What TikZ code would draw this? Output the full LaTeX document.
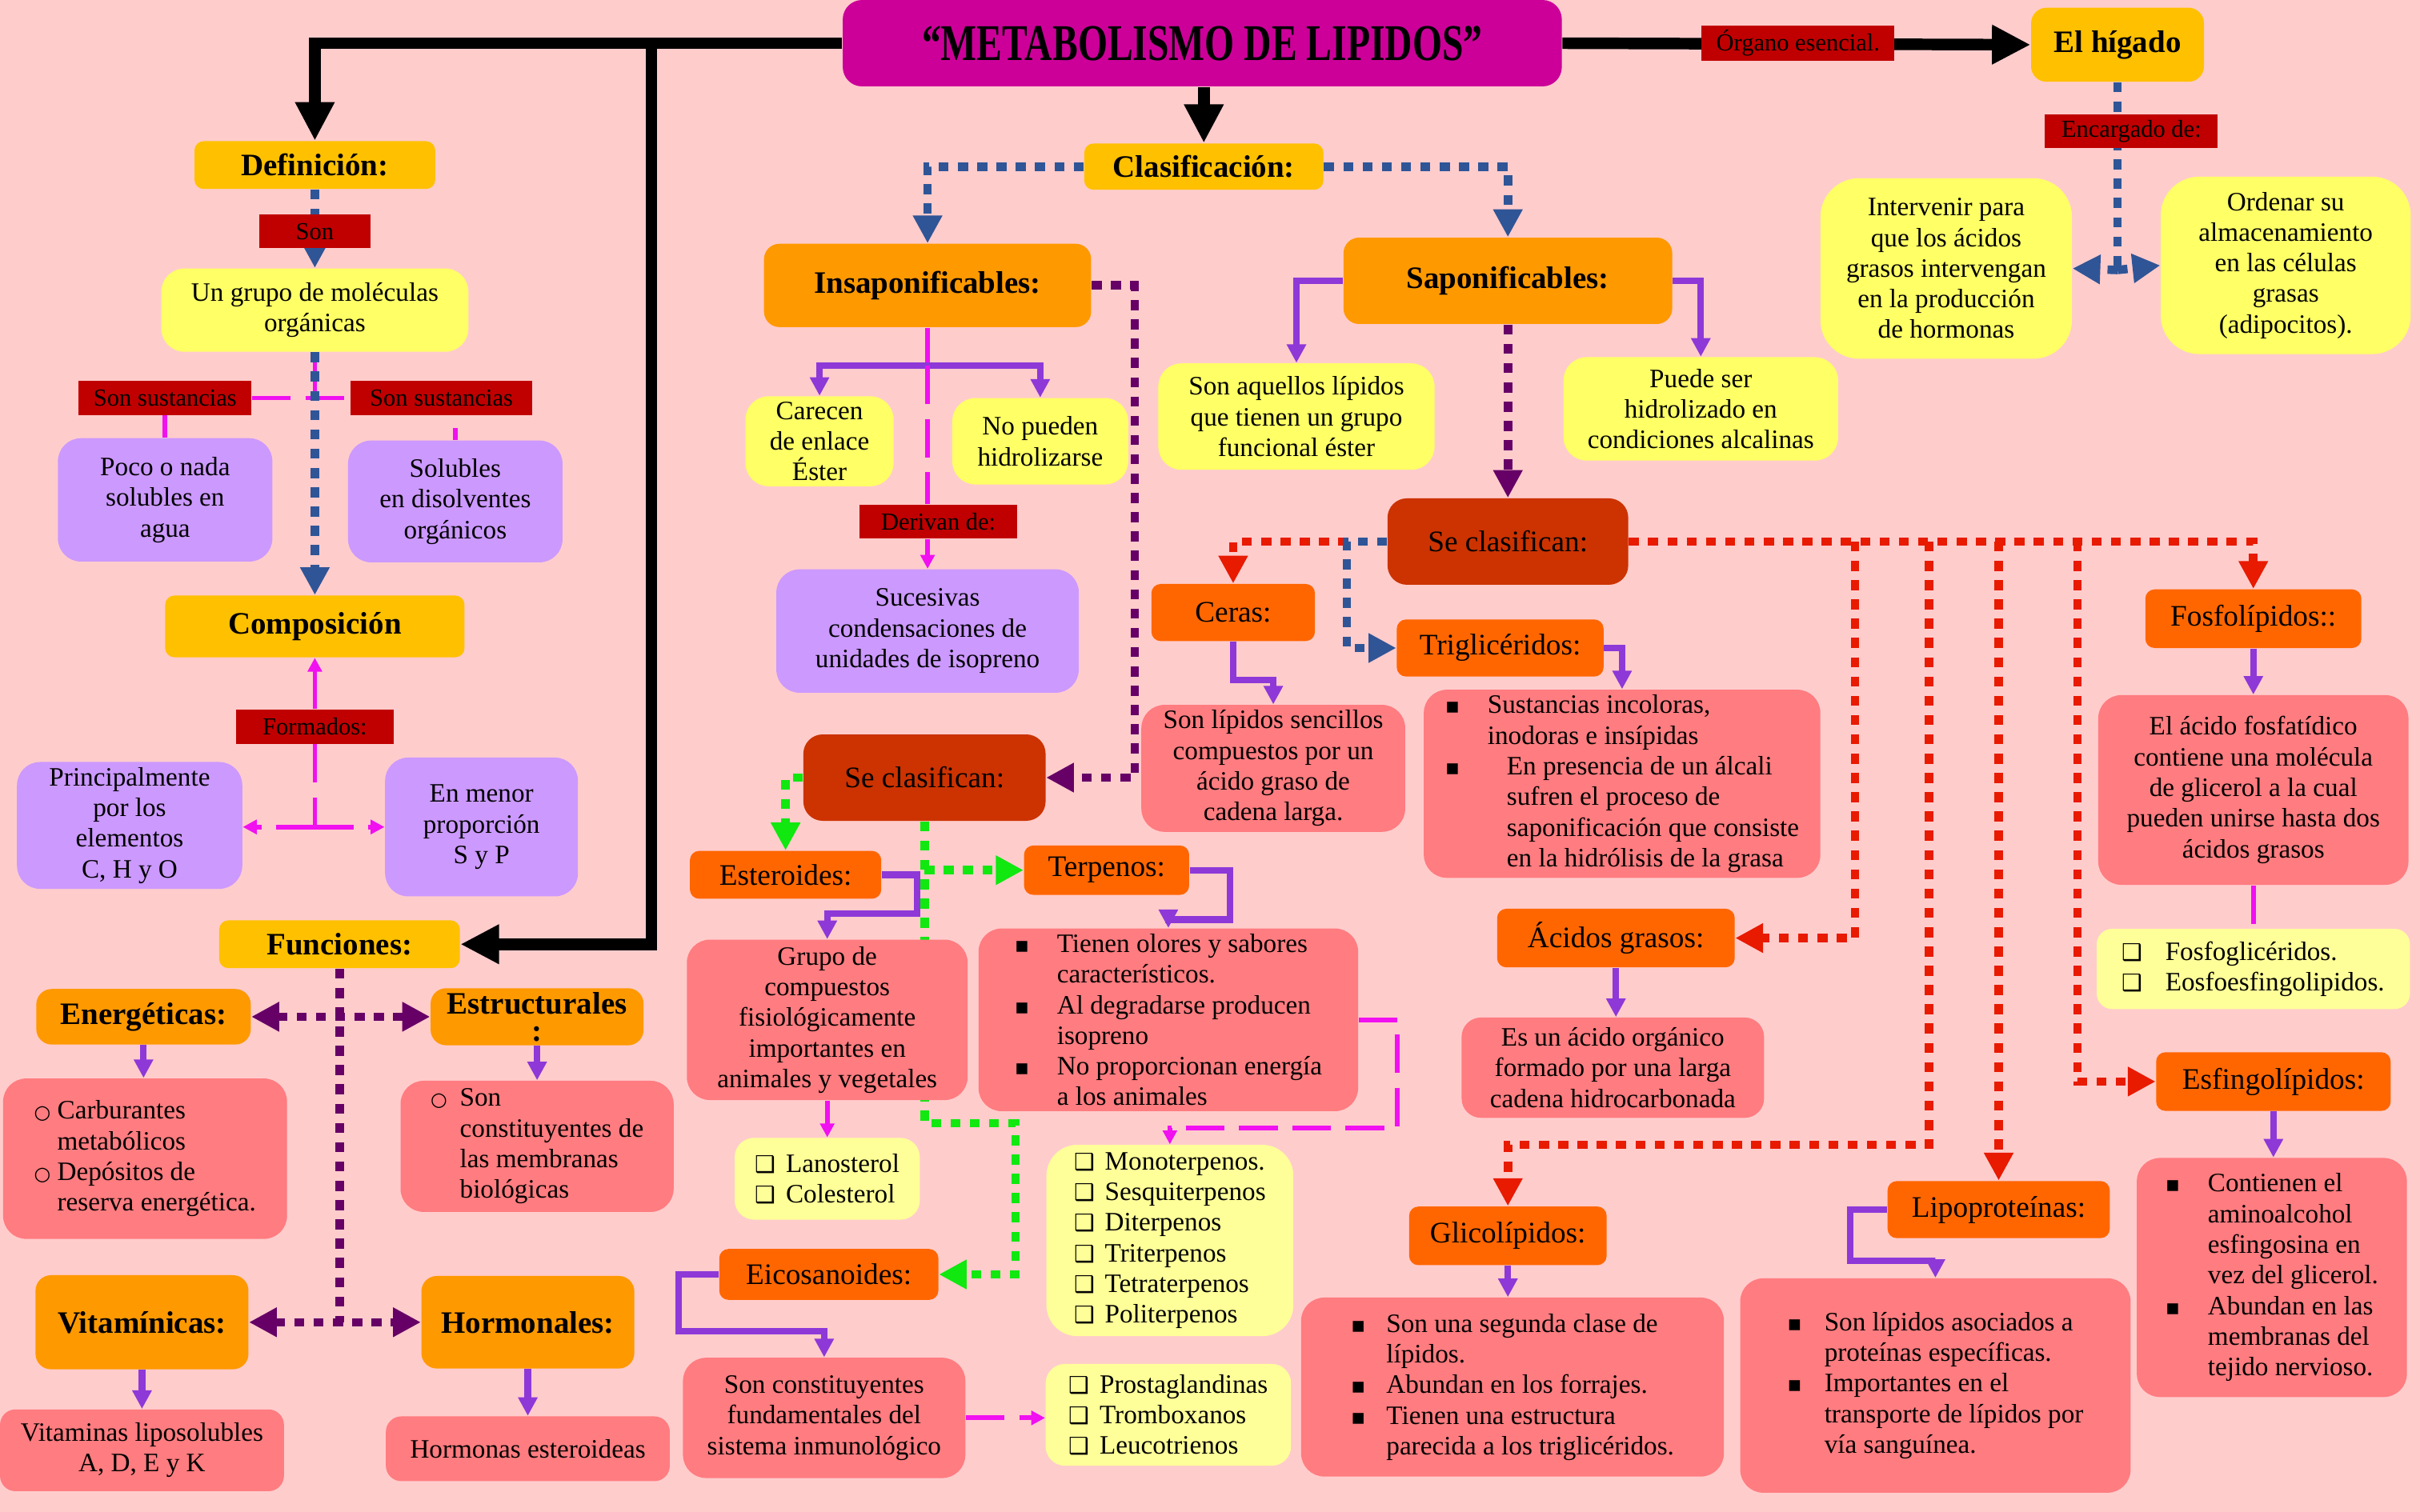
\documentclass[tikz,border=0pt]{standalone}
\usepackage{fontspec}
\setmainfont{Liberation Serif}
\newfontfamily\symf{DejaVu Sans}
\usepackage{graphicx}
\usepackage{xcolor}
\usepackage{tikz}
\usetikzlibrary{arrows.meta}
\definecolor{cBg}{HTML}{FFCCCC}
\definecolor{cTtl}{HTML}{CC0099}
\definecolor{cAmb}{HTML}{FFC000}
\definecolor{cOrg}{HTML}{FF9900}
\definecolor{cDorg}{HTML}{FF6600}
\definecolor{cRust}{HTML}{CC3300}
\definecolor{cYel}{HTML}{FFFF66}
\definecolor{cPale}{HTML}{FFFF99}
\definecolor{cLav}{HTML}{CC99FF}
\definecolor{cSal}{HTML}{FF7C80}
\definecolor{cLbl}{HTML}{C00000}
\definecolor{cBlue}{HTML}{2F5597}
\definecolor{cPur}{HTML}{8E38D8}
\definecolor{cDpur}{HTML}{660066}
\definecolor{cRed}{HTML}{E81A00}
\definecolor{cGreen}{HTML}{10E810}
\definecolor{cMag}{HTML}{F010F0}
\newcommand{\ttlfont}{\fontsize{19}{22}\bfseries\selectfont}
\newcommand{\hdrfont}{\fontsize{11.5}{13}\bfseries\selectfont}
\newcommand{\subfont}{\fontsize{11}{13}\selectfont}
\newcommand{\bodyfont}{\fontsize{9.8}{11.3}\selectfont}
\newcommand{\lblfont}{\fontsize{9}{10}\selectfont}
\newcommand{\bsq}[1][0.55cm]{\makebox[#1][l]{\symf\fontsize{8}{8}\selectfont ▪}}
\newcommand{\bsp}[1][0.55cm]{\hspace*{#1}}
\newcommand{\bci}[1][0.3cm]{\makebox[#1][l]{\symf\fontsize{7}{7}\selectfont ○}}
\newcommand{\cbx}[1][0.4cm]{\makebox[#1][l]{\symf\fontsize{8.5}{8.5}\selectfont ❑}}
\pgfdeclarelayer{bg}
\pgfdeclarelayer{edges}
\pgfsetlayers{bg,edges,main}
\tikzset{
  sz/.style 2 args={minimum width=#1cm,minimum height=#2cm},
  ttl/.style={fill=cTtl,rounded corners=0.25cm,font=\ttlfont,sz={9.32}{1.12}},
  hdr/.style={fill=cAmb,rounded corners=0.12cm,align=center,inner sep=1pt,font=\hdrfont},
  org/.style={hdr,fill=cOrg,rounded corners=0.2cm},
  dorg/.style={hdr,fill=cDorg,font=\subfont},
  rst/.style={dorg,fill=cRust,rounded corners=0.25cm},
  box/.style={rounded corners=0.3cm,align=center,inner sep=2pt,font=\bodyfont},
  yel/.style={box,fill=cYel},
  pale/.style={box,fill=cPale,rounded corners=0.25cm},
  lav/.style={box,fill=cLav},
  sal/.style={box,fill=cSal},
  lbl/.style={fill=cLbl,inner sep=0pt,font=\lblfont},
  bigarr/.style={line width=0.15cm,-{Triangle[length=0.5cm,width=0.48cm]}},
  sqdash/.style={line width=0.11cm,dash pattern=on 0.13cm off 0.12cm},
  bluedash/.style={sqdash,cBlue},
  bluedasharr/.style={bluedash,-{Triangle[length=0.36cm,width=0.36cm]}},
  pdash/.style={sqdash,cDpur},
  pdash2/.style={pdash,{Triangle[length=0.36cm,width=0.36cm]}-{Triangle[length=0.36cm,width=0.36cm]}},
  ddasharr/.style={pdash,-{Triangle[length=0.36cm,width=0.36cm]}},
  gdasharr/.style={sqdash,cGreen,-{Triangle[length=0.36cm,width=0.36cm]}},
  rdasharr/.style={sqdash,cRed,-{Triangle[length=0.36cm,width=0.36cm]}},
  magline/.style={cMag,line width=0.06cm},
  magdash/.style={magline,dash pattern=on 0.5cm off 0.19cm},
  magarr/.style={magline,-{Triangle[length=0.18cm,width=0.18cm]}},
  magdasharr/.style={magdash,-{Triangle[length=0.18cm,width=0.18cm]}},
  parr/.style={cPur,line width=0.085cm,-{Triangle[length=0.24cm,width=0.24cm]}},
}
\begin{document}
\begin{tikzpicture}[x=0.02cm,y=-0.02cm]
  \begin{pgfonlayer}{bg}
    \fill[cBg] (0,0) rectangle (1568,980);
  \end{pgfonlayer}
  \useasboundingbox (0,0) rectangle (1568,980);

  % top
  \node[ttl] (title) at (779,28) {\scalebox{0.74}[1]{“METABOLISMO DE LIPIDOS”}};
  \node[hdr,sz={2.24}{0.96},rounded corners=0.2cm] (hig) at (1372,29) {El hígado};
  \node[lbl,sz={2.5}{0.46}] (lorg) at (1165,28) {Órgano esencial.};
  \node[lbl,sz={2.24}{0.44}] (lenc) at (1381,85) {Encargado de:};
  \node[yel,sz={3.26}{2.34},rounded corners=0.5cm] (int) at (1261,174) {Intervenir para\\que los ácidos\\grasos intervengan\\en la producción\\de hormonas};
  \node[yel,sz={3.24}{2.3},rounded corners=0.5cm] (ord) at (1481,172) {Ordenar su\\almacenamiento\\en las células\\grasas\\(adipocitos).};

  % left column
  \node[hdr,sz={3.12}{0.62}] (def) at (204,107) {Definición:};
  \node[lbl,sz={1.44}{0.44}] (lson) at (204,150) {Son};
  \node[yel,sz={3.98}{1.08}] (grupo) at (204,201) {Un grupo de moléculas\\orgánicas};
  \node[lbl,sz={2.24}{0.44}] (lss1) at (107,258) {Son sustancias};
  \node[lbl,sz={2.36}{0.44}] (lss2) at (286,258) {Son sustancias};
  \node[lav,sz={2.78}{1.6}] (poco) at (107,324) {Poco o nada\\solubles en\\agua};
  \node[lav,sz={2.78}{1.58}] (solu) at (295,325) {Solubles\\en disolventes\\orgánicos};
  \node[hdr,sz={3.88}{0.8}] (comp) at (204,406) {Composición};
  \node[lbl,sz={2.04}{0.44}] (lform) at (204,471) {Formados:};
  \node[lav,sz={2.92}{1.6}] (prin) at (84,535) {Principalmente\\por los\\elementos\\C, H y O};
  \node[lav,sz={2.5}{1.8}] (menor) at (312,536) {En menor\\proporción\\S y P};
  \node[hdr,sz={3.12}{0.62}] (fun) at (220,612) {Funciones:};
  \node[org,sz={2.78}{0.72}] (ener) at (93,659) {Energéticas:};
  \node[org,sz={2.76}{0.74},font=\fontsize{11.5}{10}\bfseries\selectfont] (estr) at (348,659) {Estructurales\\:};
  \node[sal,sz={3.68}{2.08},align=left] (enerbox) at (94,751) {\bci Carburantes\\\bsp[0.3cm]metabólicos\\\bci Depósitos de\\\bsp[0.3cm]reserva energética.};
  \node[sal,sz={3.54}{1.7},align=left] (estrbox) at (348,743) {\bci[0.38cm]Son\\\bsp[0.38cm]constituyentes de\\\bsp[0.38cm]las membranas\\\bsp[0.38cm]biológicas};
  \node[org,sz={2.76}{1.22}] (vita) at (92,857) {Vitamínicas:};
  \node[org,sz={2.76}{1.2}] (horm) at (342,857) {Hormonales:};
  \node[sal,sz={3.68}{1.06},rounded corners=0.2cm] (vitbox) at (92,940) {Vitaminas liposolubles\\A, D, E y K};
  \node[sal,sz={3.68}{0.84},rounded corners=0.2cm] (hormbox) at (342,939) {Hormonas esteroideas};

  % middle column
  \node[hdr,sz={3.1}{0.6}] (clas) at (780,108) {Clasificación:};
  \node[org,sz={4.24}{1.08}] (insap) at (601,185) {Insaponificables:};
  \node[org,sz={4.26}{1.12}] (sap) at (977,182) {Saponificables:};
  \node[yel,sz={1.92}{1.14}] (care) at (531,286) {Carecen\\de enlace\\Éster};
  \node[yel,sz={2.28}{1.12}] (nop) at (674,286) {No pueden\\hidrolizarse};
  \node[lbl,sz={2.04}{0.44}] (lderiv) at (608,338) {Derivan de:};
  \node[lav,sz={3.92}{1.6}] (suce) at (601,409) {Sucesivas\\condensaciones de\\unidades de isopreno};
  \node[rst,sz={3.14}{1.12}] (secl) at (599,504) {Se clasifican:};
  \node[dorg,sz={2.48}{0.62}] (est) at (509,567) {Esteroides:};
  \node[dorg,sz={2.14}{0.64}] (terp) at (717,564) {Terpenos:};
  \node[sal,sz={3.64}{2.08}] (grupob) at (536,661) {Grupo de\\compuestos\\fisiológicamente\\importantes en\\animales y vegetales};
  \node[sal,sz={4.92}{2.34},align=left] (tien) at (757,661) {\bsq Tienen olores y sabores\\\bsp característicos.\\\bsq Al degradarse producen\\\bsp isopreno\\\bsq No proporcionan energía\\\bsp a los animales};
  \node[pale,sz={2.4}{1.06},align=left] (lano) at (536,764) {\cbx Lanosterol\\\cbx Colesterol};
  \node[pale,sz={3.2}{2.48},align=left,rounded corners=0.4cm] (mono) at (758,804) {\cbx Monoterpenos.\\\cbx Sesquiterpenos\\\cbx Diterpenos\\\cbx Triterpenos\\\cbx Tetraterpenos\\\cbx Politerpenos};
  \node[dorg,sz={2.84}{0.66}] (eico) at (537,826) {Eicosanoides:};
  \node[sal,sz={3.66}{1.56}] (sist) at (534,919) {Son constituyentes\\fundamentales del\\sistema inmunológico};
  \node[pale,sz={3.18}{1.32},align=left] (prost) at (757,917) {\cbx Prostaglandinas\\\cbx Tromboxanos\\\cbx Leucotrienos};

  % right part
  \node[yel,sz={3.58}{1.38}] (aquel) at (840,270) {Son aquellos lípidos\\que tienen un grupo\\funcional éster};
  \node[yel,sz={3.56}{1.34}] (puede) at (1102,265) {Puede ser\\hidrolizado en\\condiciones alcalinas};
  \node[rst,sz={3.12}{1.12}] (secr) at (977,351) {Se clasifican:};
  \node[dorg,sz={2.12}{0.74}] (ceras) at (799,397) {Ceras:};
  \node[dorg,sz={2.68}{0.74}] (trig) at (972,420) {Triglicéridos:};
  \node[sal,sz={3.42}{1.64}] (senc) at (825,498) {Son lípidos sencillos\\compuestos por un\\ácido graso de\\cadena larga.};
  \node[sal,sz={5.14}{2.42},align=left] (sust) at (1051,508) {\bsq Sustancias incoloras,\\\bsp inodoras e insípidas\\\bsq[0.8cm]En presencia de un álcali\\\bsp[0.8cm]sufren el proceso de\\\bsp[0.8cm]saponificación que consiste\\\bsp[0.8cm]en la hidrólisis de la grasa};
  \node[dorg,sz={3.08}{0.76}] (acid) at (1047,608) {Ácidos grasos:};
  \node[sal,sz={3.92}{1.3},rounded corners=0.25cm] (esun) at (1045,692) {Es un ácido orgánico\\formado por una larga\\cadena hidrocarbonada};
  \node[dorg,sz={2.8}{0.76}] (fosf) at (1460,401) {Fosfolípidos::};
  \node[sal,sz={4.02}{2.46}] (elac) at (1460,512) {El ácido fosfatídico\\contiene una molécula\\de glicerol a la cual\\pueden unirse hasta dos\\ácidos grasos};
  \node[pale,sz={4.06}{1.04},align=left,rounded corners=0.2cm] (fosl) at (1460,628) {\cbx[0.56cm]Fosfoglicéridos.\\\cbx[0.56cm]Eosfoesfingolipidos.};
  \node[dorg,sz={3.04}{0.76}] (esf) at (1473,701) {Esfingolípidos:};
  \node[sal,sz={3.5}{3.1},align=left] (cont) at (1472,828) {\bsq Contienen el\\\bsp aminoalcohol\\\bsp esfingosina en\\\bsp vez del glicerol.\\\bsq Abundan en las\\\bsp membranas del\\\bsp tejido nervioso.};
  \node[dorg,sz={2.56}{0.76}] (gli) at (977,801) {Glicolípidos:};
  \node[sal,sz={5.48}{2.32},align=left] (glib) at (980,899) {\bsq[0.46cm]Son una segunda clase de\\\bsp[0.46cm]lípidos.\\\bsq[0.46cm]Abundan en los forrajes.\\\bsq[0.46cm]Tienen una estructura\\\bsp[0.46cm]parecida a los triglicéridos.};
  \node[dorg,sz={2.88}{0.74}] (lipo) at (1295,784) {Lipoproteínas:};
  \node[sal,sz={5.06}{2.78},align=left] (lipob) at (1254,898) {\bsq[0.48cm]Son lípidos asociados a\\\bsp[0.48cm]proteínas específicas.\\\bsq[0.48cm]Importantes en el\\\bsp[0.48cm]transporte de lípidos por\\\bsp[0.48cm]vía sanguínea.};

  \begin{pgfonlayer}{edges}
    % black main arrows
    \coordinate (tj) at (422,28);
    \draw[bigarr] (title.west) -| (def.north);
    \draw[bigarr] (tj) |- (fun.east);
    \draw[bigarr] (clas.north |- title.south) -- (clas.north);
    \draw[bigarr] (title.east) -- (hig.west);
    % higado
    \coordinate (hj) at (1372,175);
    \draw[bluedash] (hig.south) -- (hj);
    \draw[bluedasharr] (hj) -- (int.east);
    \draw[bluedasharr] (hj) -- (ord.west);
    % definicion
    \draw[magline] (grupo.south) -- (grupo.south |- lss2.west);
    \draw[magdash] (lss1.east) -- (lss2.west);
    \draw[magline] (lss1.south) -- (poco.north);
    \draw[magline] (solu.north |- lss2.south) ++(0,8) -- (solu.north);
    \draw[bluedasharr] (def.south) -- (grupo.north);
    \draw[bluedasharr] (grupo.south) -- (comp.north);
    \coordinate (fj) at (204,536);
    \draw[magarr] (lform.north) -- (comp.south);
    \draw[magdash] (lform.south) -- (fj);
    \draw[magdasharr] (fj) -- (fj -| prin.east);
    \draw[magdasharr] (fj) -- (fj -| menor.west);
    % funciones
    \coordinate (fj2) at (220,857);
    \draw[pdash] (fun.south) -- (fj2);
    \draw[pdash2] (ener.east) -- (estr.west);
    \draw[pdash2] (vita.east) -- (horm.west);
    \draw[parr] (ener.south) -- (ener.south |- enerbox.north);
    \draw[parr] (estr.south) -- (estr.south |- estrbox.north);
    \draw[parr] (vita.south) -- (vita.south |- vitbox.north);
    \draw[parr] (horm.south) -- (horm.south |- hormbox.north);
    % clasificacion
    \draw[bluedasharr] (clas.west) -| (insap.north);
    \draw[bluedasharr] (clas.east) -| (sap.north);
    % insaponificables
    \coordinate (ij) at (601,237);
    \draw[magline] (insap.south) -- (ij);
    \draw[parr] (ij) -| (care.north);
    \draw[parr] (ij) -| (nop.north);
    \draw[magdash] (ij) -- (ij |- lderiv.north);
    \draw[magarr] (ij |- lderiv.south) -- (suce.north);
    \draw[ddasharr] (insap.east) -- ++(28,0) |- (secl.east);
    \coordinate (gj1) at (secl.south |- terp.west);
    \coordinate (gj2) at (599,728);
    \draw[gdasharr] (secl.west) -| (est.north);
    \draw[gdasharr] (secl.south) -- (gj2) -- ++(59,0) |- (eico.east);
    \draw[gdasharr] (gj1) -- (terp.west);
    \draw[parr] (est.east) -- ++(23,0) -- ++(0,25) -| (grupob.north);
    \draw[magarr] (grupob.south) -- (lano.north);
    \draw[parr] (terp.east) -- ++(26,0) -- ++(0,32) -| (tien.north);
    \draw[magdasharr] (tien.east) -- ++(25,0) -- ++(0,70) -| (mono.north);
    \draw[parr] (eico.west) -- ++(-26,0) -- ++(0,37) -| (sist.north);
    \draw[magdasharr] (sist.east) -- (sist.east -| prost.west);
    % saponificables
    \draw[parr] (sap.west) -| (aquel.north);
    \draw[parr] (sap.east) -| (puede.north);
    \draw[ddasharr] (sap.south) -- (secr.north);
    \draw[rdasharr] (secr.west) -| (ceras.north);
    \draw[bluedasharr] (secr.west) -- ++(-26,0) |- (trig.west);
    \coordinate (r1) at (1202,351);
    \coordinate (r2) at (1250,351);
    \coordinate (r3) at (1295,351);
    \coordinate (r4) at (1346,351);
    \draw[rdasharr] (secr.east) -| (fosf.north);
    \draw[rdasharr] (r1) |- (acid.east);
    \draw[rdasharr] (r2) -- ++(0,391) -| (gli.north);
    \draw[rdasharr] (r3) -- (r3 |- lipo.north);
    \draw[rdasharr] (r4) |- (esf.west);
    \draw[parr] (ceras.south) -- ++(0,25) -| (senc.north);
    \draw[parr] (trig.east) -| (sust.north);
    \draw[parr] (acid.south) -- (acid.south |- esun.north);
    \draw[parr] (fosf.south) -- (elac.north);
    \draw[magdash] (elac.south) -- (fosl.north);
    \draw[parr] (esf.south) -- (esf.south |- cont.north);
    \draw[parr] (gli.south) -- (gli.south |- glib.north);
    \draw[parr] (lipo.west) -- ++(-24,0) -- ++(0,33) -| (lipob.north);
  \end{pgfonlayer}
\end{tikzpicture}
\end{document}
